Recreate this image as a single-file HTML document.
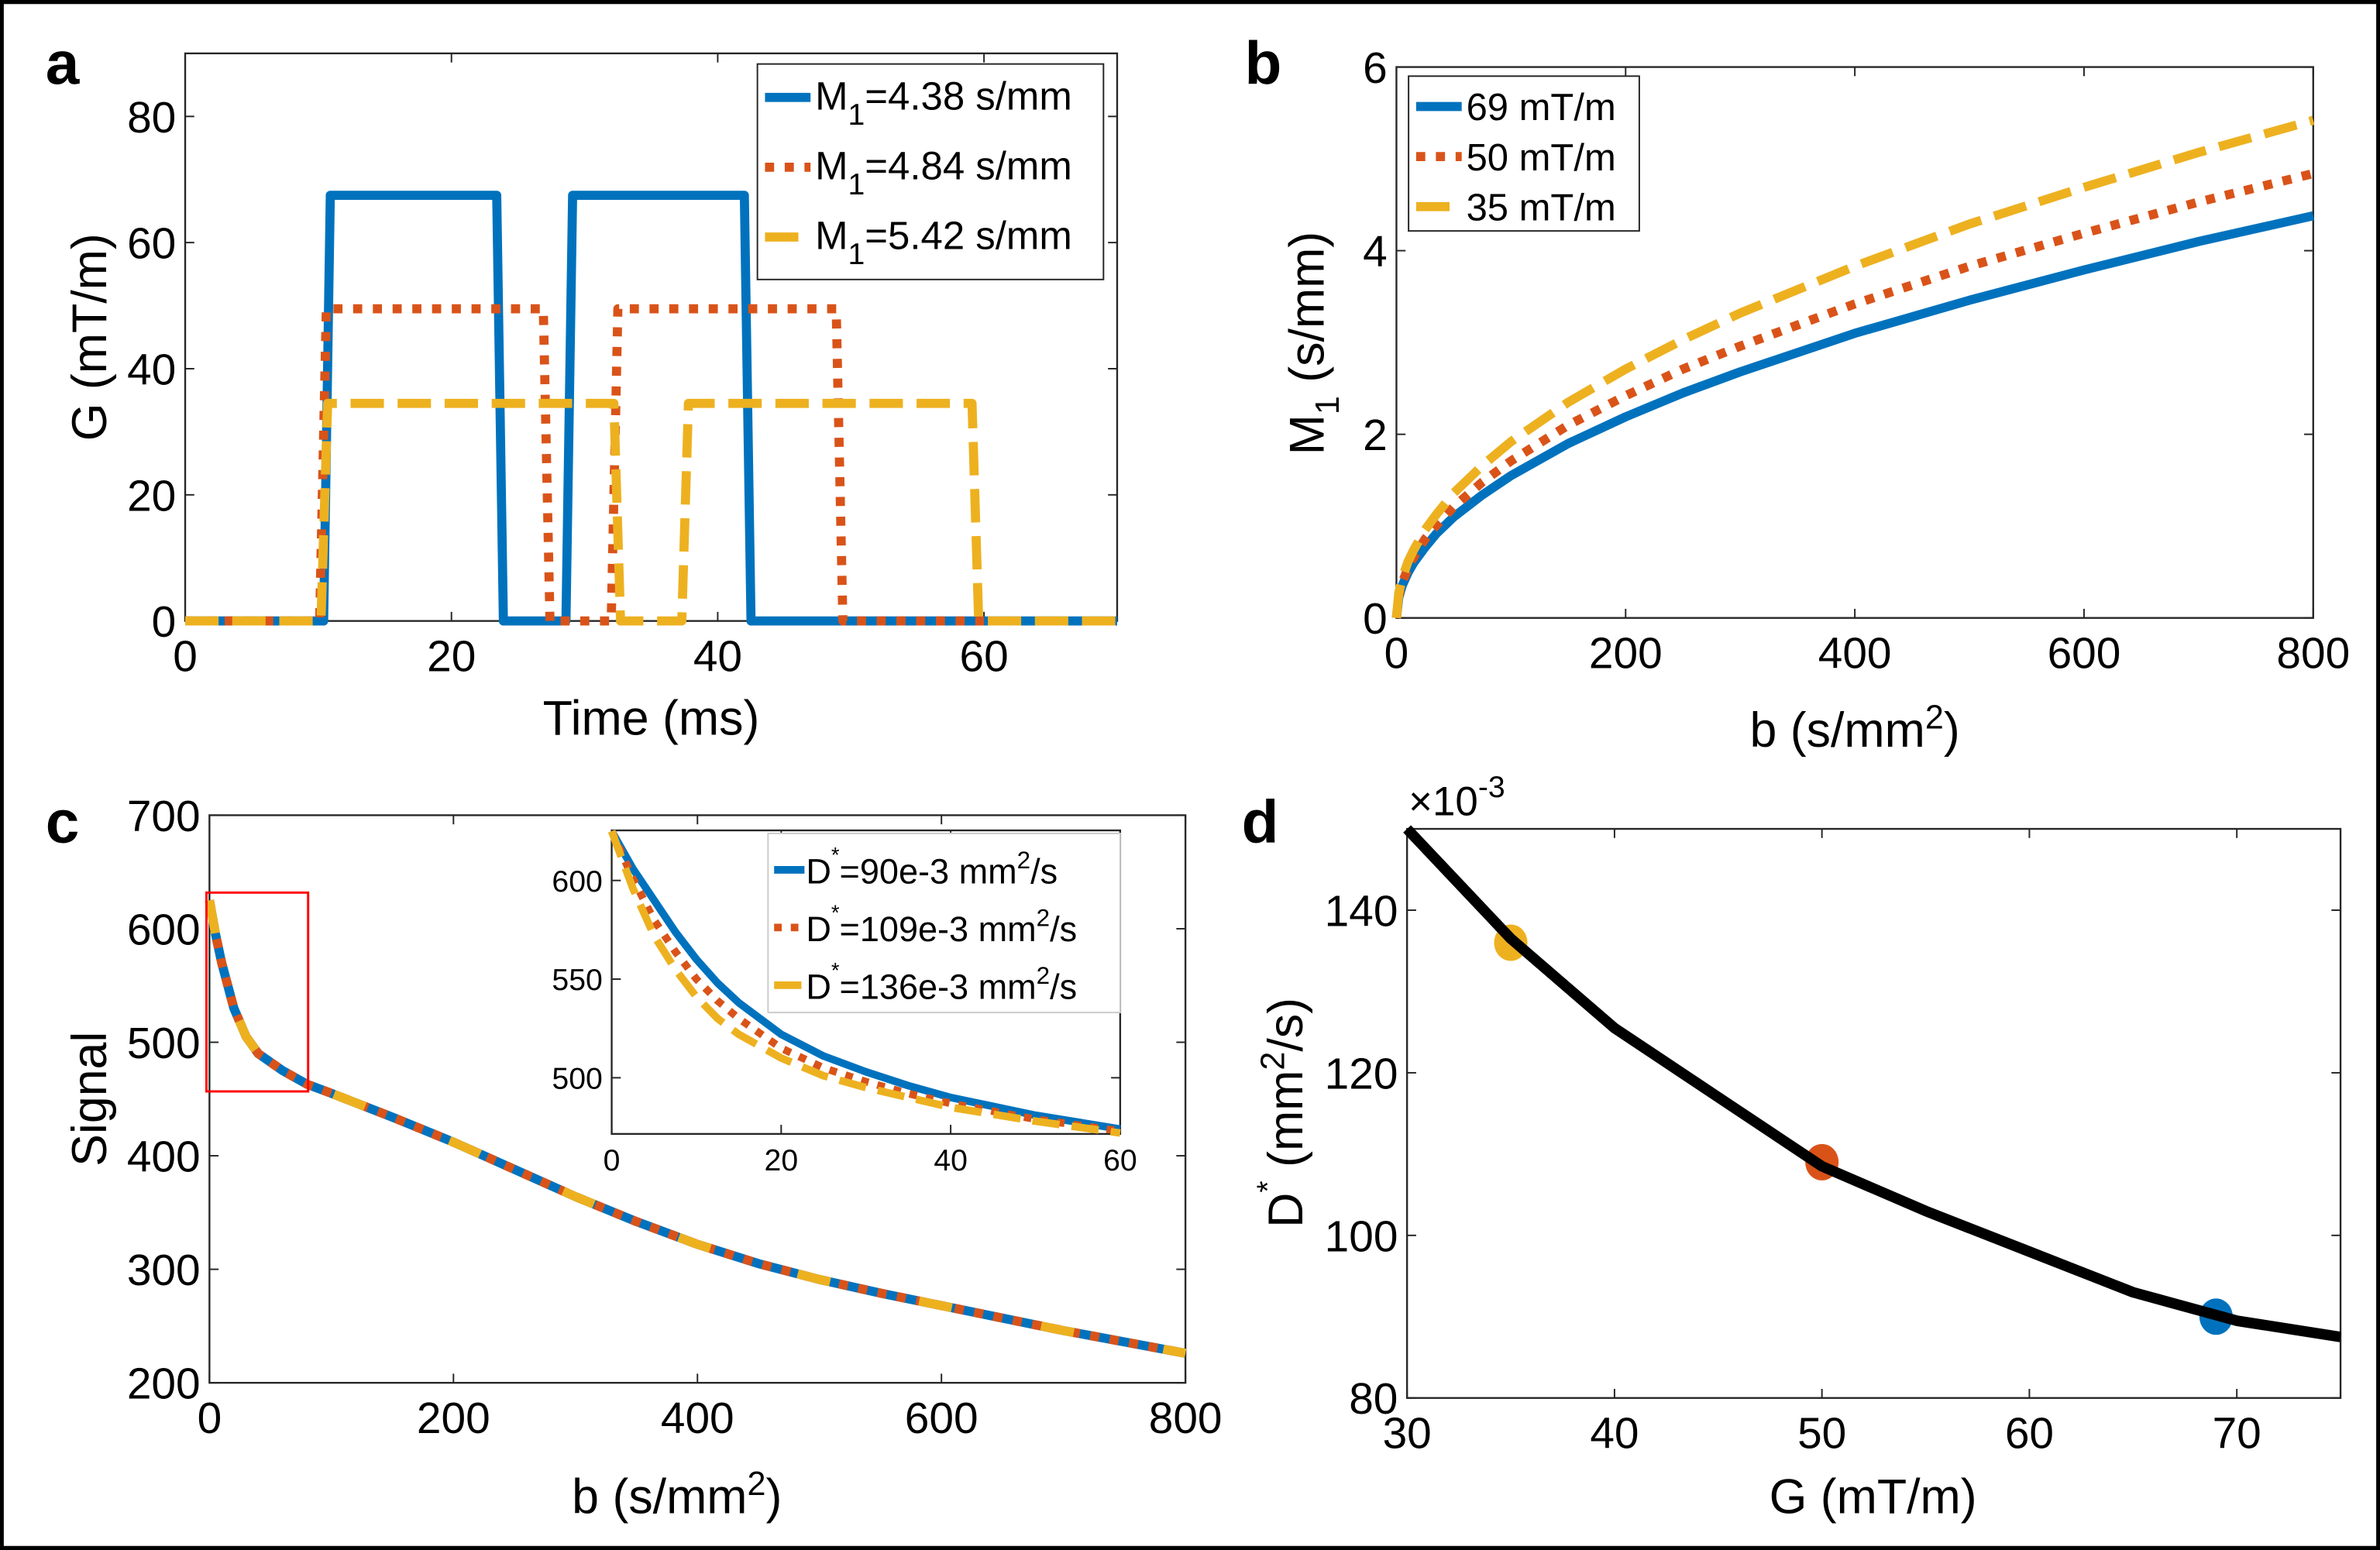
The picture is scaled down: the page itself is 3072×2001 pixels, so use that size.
<!DOCTYPE html>
<html><head><meta charset="utf-8"><style>
html,body{margin:0;padding:0;background:#fff;}
svg{display:block;}
text{font-family:"Liberation Sans",sans-serif;fill:#000;}
</style></head><body>
<svg id="fig" width="3072" height="2001" viewBox="0 0 1568 1021" xmlns="http://www.w3.org/2000/svg">
<rect x="1" y="1" width="1566" height="1019" fill="#fff" stroke="#000" stroke-width="3"/>
<g id="root"></g>
</svg>
<script>
// ---- Panel a data ----
const aTime=[0,10.4,10.9,23.4,23.9,28.6,29.1,42.0,42.5,70];
const aBlue=[0,0,67.5,67.5,0,0,67.5,67.5,0,0];
const aTimeR=[0,10.1,10.6,26.9,27.4,32.0,32.5,48.9,49.4,60];
const aRed=[0,0,49.5,49.5,0,0,49.5,49.5,0,0];
const aTimeY=[0,10.2,10.7,32.2,32.7,37.3,37.8,59.1,59.6,70];
const aYel=[0,0,34.5,34.5,0,0,34.5,34.5,0,0];
const aXTicks=[0,20,40,60];
const aYTicks=[0,20,40,60,80];
const aLegend=["4.38","4.84","5.42"];
// ---- Panel b data ----
const bB=[0,2,5,10,15,25,35,50,75,100,150,200,250,300,400,500,600,700,800];
const bBlue=[0,0.22,0.35,0.49,0.60,0.77,0.92,1.10,1.34,1.55,1.90,2.19,2.45,2.68,3.10,3.46,3.79,4.10,4.38];
const bRed=[0,0.24,0.38,0.54,0.66,0.86,1.01,1.21,1.48,1.71,2.10,2.42,2.71,2.96,3.42,3.83,4.19,4.53,4.84];
const bYel=[0,0.27,0.43,0.61,0.74,0.96,1.13,1.36,1.66,1.92,2.35,2.71,3.03,3.32,3.83,4.29,4.69,5.07,5.42];
const bXTicks=[0,200,400,600,800];
const bYTicks=[0,2,4,6];
const bLegend=["69 mT/m","50 mT/m","35 mT/m"];
// ---- Panel c data ----
const cB=[0,5,10,20,30,40,60,80,100,150,200,250,300,350,400,450,500,550,600,650,700,750,800];
const cSig=[625,595,570,530,505,490,475,463,455,434,412,388,364,342,322,305,291,279,268,257,246,236,226];
const cXTicks=[0,200,400,600,800];
const cYTicks=[200,300,400,500,600,700];
const insB=[0,2.5,5,7.5,10,12.5,15,20,25,30,35,40,50,60];
const insBlue=[625,606,590,574,560,548,538,522,511,503,496,490,481,474];
const insRed=[625,601,580,564,550,539,530,515,505,498,492,487,479,473];
const insYel=[625,596,572,555,541,530,522,510,501,495,490,485,478,472];
const insXTicks=[0,20,40,60];
const insYTicks=[500,550,600];
const cLegend=["90","109","136"];
// ---- Panel d data ----
const dG=[30,35,40,45,50,55,60,65,70,75];
const dD=[150,136.5,125.5,117,108.5,103,98,93,89.5,87.5];
const dPtG=[35,50,69];
const dPtD=[136,109,90];
const dXTicks=[30,40,50,60,70];
const dYTicks=[80,100,120,140];

const NS="http://www.w3.org/2000/svg";
const root=document.getElementById('root');
const BLUE="#0072BD",RED="#D95319",YEL="#EDB120";
function el(tag,attrs,parent,txt){const e=document.createElementNS(NS,tag);for(const k in attrs)e.setAttribute(k,attrs[k]);if(txt!==undefined)e.textContent=txt;(parent||root).appendChild(e);return e;}
function lin(d0,d1,p0,p1){return v=>p0+(v-d0)*(p1-p0)/(d1-d0);}
function axes(g,x0,y0,x1,y1,sx,sy,xt,yt,fs,name){
  const b=el('rect',{x:x0,y:y0,width:x1-x0,height:y1-y0,fill:'#fff',stroke:'#262626','stroke-width':1.2},g);
  
  
  xt.forEach(v=>{const x=sx(v);
    el('line',{x1:x,y1:y1,x2:x,y2:y1-6,stroke:'#262626','stroke-width':1},g);
    el('line',{x1:x,y1:y0,x2:x,y2:y0+6,stroke:'#262626','stroke-width':1},g);
    const t=el('text',{x:x,y:y1+fs+4,'font-size':fs,'text-anchor':'middle'},g,String(v));
    
    });
  yt.forEach(v=>{const y=sy(v);
    el('line',{x1:x0,y1:y,x2:x0+6,y2:y,stroke:'#262626','stroke-width':1},g);
    el('line',{x1:x1,y1:y,x2:x1-6,y2:y,stroke:'#262626','stroke-width':1},g);
    const t=el('text',{x:x0-6,y:y+fs*0.36,'font-size':fs,'text-anchor':'end'},g,String(v));
    
    });
}
function path(g,xs,ys,sx,sy,color,w,dash,name){
  let d='';xs.forEach((v,i)=>{d+=(i?'L':'M')+sx(v).toFixed(2)+','+sy(ys[i]).toFixed(2);});
  const p=el('path',{d:d,fill:'none',stroke:color,'stroke-width':w,'stroke-linejoin':'round'},g);
  if(dash)p.setAttribute('stroke-dasharray',dash);
  
  
  return p;
}
function label(txt,x,y,name){const t=el('text',{x:x,y:y,'font-size':40,'font-weight':'bold'},root,txt);
  
  }

// Panel a
(function(){
  const g=el('g',{});
  const sx=lin(0,70,122,736), sy=lin(0,90,409,35);
  axes(g,122,35,736,409,sx,sy,aXTicks,aYTicks,29,'panel-a');
  path(g,aTime,aBlue,sx,sy,BLUE,6,null,'series-m1-4.38');
  path(g,aTimeR,aRed,sx,sy,RED,6,'6 7','series-m1-4.84');
  path(g,aTimeY,aYel,sx,sy,YEL,6,'22 9','series-m1-5.42');
  const t=el('text',{x:429,y:484,'font-size':32,'text-anchor':'middle'},g,'Time (ms)');
  
  const ty=el('text',{x:0,y:0,'font-size':32,'text-anchor':'middle',transform:'translate(70,222) rotate(-90)'},g,'G (mT/m)');
  
  const lg=el('g',{},g);
  el('rect',{x:499,y:42,width:228,height:142,fill:'#fff',stroke:'#262626','stroke-width':1},lg);
  const cols=[BLUE,RED,YEL],dash=[null,'6 7','22 9'];
  aLegend.forEach((v,i)=>{const y=64+i*46;
    const l=el('line',{x1:504,y1:y,x2:534,y2:y,stroke:cols[i],'stroke-width':6},lg);
    if(dash[i])l.setAttribute('stroke-dasharray',dash[i]);
    const t=el('text',{x:537,y:y+8,'font-size':26},lg);
    
    el('tspan',{},t,'M');el('tspan',{dy:10,'font-size':20},t,'1');el('tspan',{dy:-10},t,'='+v+' s/mm');
  });
})();
label('a',30,55,'panel-label-a');

// Panel b
(function(){
  const g=el('g',{});
  const sx=lin(0,800,920,1524), sy=lin(0,6,407,44);
  axes(g,920,44,1524,407,sx,sy,bXTicks,bYTicks,29,'panel-b');
  path(g,bB,bBlue,sx,sy,BLUE,6,null,'series-69mT');
  path(g,bB,bRed,sx,sy,RED,6,'6 7','series-50mT');
  path(g,bB,bYel,sx,sy,YEL,6,'22 9','series-35mT');
  const t=el('text',{x:1222,y:492,'font-size':32,'text-anchor':'middle'},g);
  
  el('tspan',{},t,'b (s/mm');el('tspan',{dy:-12,'font-size':22},t,'2');el('tspan',{dy:12},t,')');
  const ty=el('text',{x:0,y:0,'font-size':32,'text-anchor':'middle',transform:'translate(872,226) rotate(-90)'},g);
  
  el('tspan',{},ty,'M');el('tspan',{dy:10,'font-size':22},ty,'1');el('tspan',{dy:-10},ty,' (s/mm)');
  const lg=el('g',{},g);
  el('rect',{x:928,y:50,width:152,height:102,fill:'#fff',stroke:'#262626','stroke-width':1},lg);
  const cols=[BLUE,RED,YEL],dash=[null,'6 7','22 9'];
  bLegend.forEach((v,i)=>{const y=70+i*33;
    const l=el('line',{x1:933,y1:y,x2:963,y2:y,stroke:cols[i],'stroke-width':6},lg);
    if(dash[i])l.setAttribute('stroke-dasharray',dash[i]);
    const t=el('text',{x:966,y:y+9,'font-size':25},lg,v);
    
  });
})();
label('b',820,55,'panel-label-b');

// Panel c
(function(){
  const g=el('g',{});
  const sx=lin(0,800,138,781), sy=lin(200,700,911,537);
  axes(g,138,537,781,911,sx,sy,cXTicks,cYTicks,29,'panel-c');
  path(g,cB,cSig,sx,sy,BLUE,6,null,'signal-d90');
  path(g,cB,cSig,sx,sy,RED,6,'6 7','signal-d109');
  path(g,cB,cSig,sx,sy,YEL,6,'22 60','signal-d136');
  const r=el('rect',{x:136,y:588,width:67,height:131,fill:'none',stroke:'#ff0000','stroke-width':1.5},g);
  
  const t=el('text',{x:446,y:997,'font-size':32,'text-anchor':'middle'},g);
  
  el('tspan',{},t,'b (s/mm');el('tspan',{dy:-12,'font-size':22},t,'2');el('tspan',{dy:12},t,')');
  const ty=el('text',{x:0,y:0,'font-size':32,'text-anchor':'middle',transform:'translate(70,724) rotate(-90)'},g,'Signal');
  
  // inset
  const ig=el('g',{},g);
  const ix=lin(0,60,403,738), iy=lin(500,600,710,580);
  axes(ig,403,547,738,747,ix,iy,insXTicks,insYTicks,20,'inset');
  path(ig,insB,insBlue,ix,iy,BLUE,5,null,'inset-d90');
  path(ig,insB,insRed,ix,iy,RED,5,'5 6','inset-d109');
  path(ig,insB,insYel,ix,iy,YEL,5,'18 8','inset-d136');
  const lg=el('g',{},g);
  el('rect',{x:506,y:549,width:232,height:118,fill:'#fff',stroke:'#cccccc','stroke-width':1},lg);
  const cols=[BLUE,RED,YEL],dash=[null,'5 6','18 8'];
  cLegend.forEach((v,i)=>{const y=573+i*38;
    const l=el('line',{x1:510,y1:y,x2:530,y2:y,stroke:cols[i],'stroke-width':5},lg);
    if(dash[i])l.setAttribute('stroke-dasharray',dash[i]);
    const t=el('text',{x:531,y:y+9,'font-size':23},lg);
    
    el('tspan',{},t,'D');el('tspan',{dy:-14,'font-size':14},t,'*');el('tspan',{dy:14},t,'='+v+'e-3 mm');
    el('tspan',{dy:-10,'font-size':16},t,'2');el('tspan',{dy:10},t,'/s');
  });
})();
label('c',30,555,'panel-label-c');

// Panel d
(function(){
  const g=el('g',{});
  const sx=lin(30,75,927,1542), sy=lin(80,150,921,546);
  axes(g,927,546,1542,921,sx,sy,dXTicks,dYTicks,29,'panel-d');
  const cols=[YEL,RED,BLUE];
  dPtG.forEach((v,i)=>{const c=el('ellipse',{cx:sx(v),cy:sy(dPtD[i]),rx:11,ry:12,fill:cols[i]},g);
    });
  path(g,dG,dD,sx,sy,'#000',7,null,'dstar-curve');
  const ex=el('text',{x:928,y:537,'font-size':27},g);
  
  el('tspan',{},ex,'\u00d710');el('tspan',{dy:-12,'font-size':20},ex,'-3');
  const t=el('text',{x:1234,y:997,'font-size':32,'text-anchor':'middle'},g,'G (mT/m)');
  
  const ty=el('text',{x:0,y:0,'font-size':32,'text-anchor':'middle',transform:'translate(858,733) rotate(-90)'},g);
  
  el('tspan',{},ty,'D');el('tspan',{dy:-16,'font-size':20},ty,'*');el('tspan',{dy:16},ty,' (mm');
  el('tspan',{dy:-12,'font-size':22},ty,'2');el('tspan',{dy:12},ty,'/s)');
})();
label('d',818,555,'panel-label-d');
</script>
</body></html>
